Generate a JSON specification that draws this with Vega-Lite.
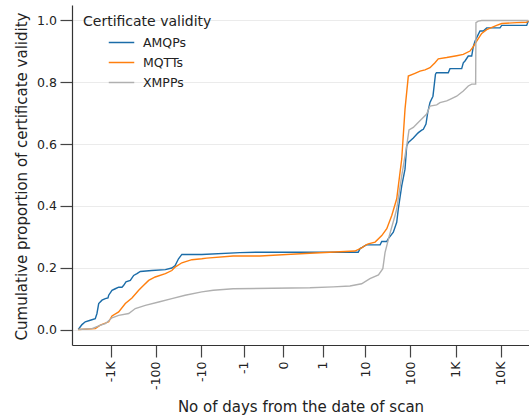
{
  "$schema": "https://vega.github.io/schema/vega-lite/v6.json",
  "width": 457,
  "height": 340,
  "autosize": {"type": "none"},
  "padding": {"left": 72, "top": 5, "right": 0, "bottom": 72},
  "background": "white",
  "config": {
    "view": {"stroke": null},
    "font": "DejaVu Sans",
    "axis": {
      "domainColor": "#333333",
      "domainWidth": 1.2,
      "tickColor": "#444444",
      "tickWidth": 1.2,
      "labelColor": "#222222",
      "titleColor": "#222222",
      "labelFont": "DejaVu Sans",
      "titleFont": "DejaVu Sans"
    },
    "legend": {"labelFont": "DejaVu Sans", "titleFont": "DejaVu Sans"}
  },
  "data": {
    "values": [
      {"protocol": "AMQPs", "days": -5200, "cdf": 0},
      {"protocol": "AMQPs", "days": -4300, "cdf": 0.016},
      {"protocol": "AMQPs", "days": -3640, "cdf": 0.025},
      {"protocol": "AMQPs", "days": -2820, "cdf": 0.03},
      {"protocol": "AMQPs", "days": -2190, "cdf": 0.035},
      {"protocol": "AMQPs", "days": -2010, "cdf": 0.052},
      {"protocol": "AMQPs", "days": -1840, "cdf": 0.084},
      {"protocol": "AMQPs", "days": -1556, "cdf": 0.095},
      {"protocol": "AMQPs", "days": -1316, "cdf": 0.1},
      {"protocol": "AMQPs", "days": -1147, "cdf": 0.102},
      {"protocol": "AMQPs", "days": -1107, "cdf": 0.111},
      {"protocol": "AMQPs", "days": -936, "cdf": 0.127},
      {"protocol": "AMQPs", "days": -792, "cdf": 0.132},
      {"protocol": "AMQPs", "days": -666, "cdf": 0.137},
      {"protocol": "AMQPs", "days": -563, "cdf": 0.137},
      {"protocol": "AMQPs", "days": -516, "cdf": 0.143},
      {"protocol": "AMQPs", "days": -460, "cdf": 0.154},
      {"protocol": "AMQPs", "days": -369, "cdf": 0.159},
      {"protocol": "AMQPs", "days": -311, "cdf": 0.175},
      {"protocol": "AMQPs", "days": -263, "cdf": 0.181},
      {"protocol": "AMQPs", "days": -222, "cdf": 0.188},
      {"protocol": "AMQPs", "days": -123, "cdf": 0.191},
      {"protocol": "AMQPs", "days": -62, "cdf": 0.194},
      {"protocol": "AMQPs", "days": -44.6, "cdf": 0.199},
      {"protocol": "AMQPs", "days": -37.7, "cdf": 0.207},
      {"protocol": "AMQPs", "days": -31.7, "cdf": 0.229},
      {"protocol": "AMQPs", "days": -26.7, "cdf": 0.243},
      {"protocol": "AMQPs", "days": -9.6, "cdf": 0.243},
      {"protocol": "AMQPs", "days": -1.25, "cdf": 0.249},
      {"protocol": "AMQPs", "days": -0.45, "cdf": 0.25},
      {"protocol": "AMQPs", "days": 6.9, "cdf": 0.25},
      {"protocol": "AMQPs", "days": 7.6, "cdf": 0.262},
      {"protocol": "AMQPs", "days": 8.5, "cdf": 0.266},
      {"protocol": "AMQPs", "days": 10.5, "cdf": 0.274},
      {"protocol": "AMQPs", "days": 21.3, "cdf": 0.274},
      {"protocol": "AMQPs", "days": 23.2, "cdf": 0.285},
      {"protocol": "AMQPs", "days": 30, "cdf": 0.285},
      {"protocol": "AMQPs", "days": 32.5, "cdf": 0.294},
      {"protocol": "AMQPs", "days": 41.9, "cdf": 0.315},
      {"protocol": "AMQPs", "days": 49.8, "cdf": 0.347},
      {"protocol": "AMQPs", "days": 54, "cdf": 0.39},
      {"protocol": "AMQPs", "days": 64.3, "cdf": 0.465},
      {"protocol": "AMQPs", "days": 76, "cdf": 0.519},
      {"protocol": "AMQPs", "days": 82.8, "cdf": 0.594},
      {"protocol": "AMQPs", "days": 89.9, "cdf": 0.605},
      {"protocol": "AMQPs", "days": 98, "cdf": 0.61},
      {"protocol": "AMQPs", "days": 116, "cdf": 0.62},
      {"protocol": "AMQPs", "days": 138, "cdf": 0.632},
      {"protocol": "AMQPs", "days": 150, "cdf": 0.637},
      {"protocol": "AMQPs", "days": 178, "cdf": 0.645},
      {"protocol": "AMQPs", "days": 193, "cdf": 0.648},
      {"protocol": "AMQPs", "days": 221, "cdf": 0.665},
      {"protocol": "AMQPs", "days": 241, "cdf": 0.702},
      {"protocol": "AMQPs", "days": 271, "cdf": 0.735},
      {"protocol": "AMQPs", "days": 315, "cdf": 0.755},
      {"protocol": "AMQPs", "days": 358, "cdf": 0.826},
      {"protocol": "AMQPs", "days": 376, "cdf": 0.831},
      {"protocol": "AMQPs", "days": 686, "cdf": 0.831},
      {"protocol": "AMQPs", "days": 748, "cdf": 0.844},
      {"protocol": "AMQPs", "days": 1357, "cdf": 0.844},
      {"protocol": "AMQPs", "days": 1472, "cdf": 0.863},
      {"protocol": "AMQPs", "days": 1605, "cdf": 0.869},
      {"protocol": "AMQPs", "days": 1897, "cdf": 0.885},
      {"protocol": "AMQPs", "days": 2255, "cdf": 0.885},
      {"protocol": "AMQPs", "days": 2446, "cdf": 0.915},
      {"protocol": "AMQPs", "days": 2667, "cdf": 0.933},
      {"protocol": "AMQPs", "days": 3155, "cdf": 0.955},
      {"protocol": "AMQPs", "days": 3439, "cdf": 0.966},
      {"protocol": "AMQPs", "days": 4068, "cdf": 0.966},
      {"protocol": "AMQPs", "days": 4834, "cdf": 0.976},
      {"protocol": "AMQPs", "days": 9504, "cdf": 0.976},
      {"protocol": "AMQPs", "days": 10363, "cdf": 0.984},
      {"protocol": "AMQPs", "days": 36930, "cdf": 0.984},
      {"protocol": "AMQPs", "days": 40060, "cdf": 0.998},

      {"protocol": "MQTTs", "days": -5200, "cdf": 0},
      {"protocol": "MQTTs", "days": -2190, "cdf": 0.003},
      {"protocol": "MQTTs", "days": -1697, "cdf": 0.014},
      {"protocol": "MQTTs", "days": -1107, "cdf": 0.025},
      {"protocol": "MQTTs", "days": -936, "cdf": 0.044},
      {"protocol": "MQTTs", "days": -666, "cdf": 0.057},
      {"protocol": "MQTTs", "days": -476, "cdf": 0.084},
      {"protocol": "MQTTs", "days": -339, "cdf": 0.102},
      {"protocol": "MQTTs", "days": -241, "cdf": 0.127},
      {"protocol": "MQTTs", "days": -187, "cdf": 0.143},
      {"protocol": "MQTTs", "days": -145, "cdf": 0.159},
      {"protocol": "MQTTs", "days": -104, "cdf": 0.17},
      {"protocol": "MQTTs", "days": -62, "cdf": 0.181},
      {"protocol": "MQTTs", "days": -44.6, "cdf": 0.191},
      {"protocol": "MQTTs", "days": -37.7, "cdf": 0.202},
      {"protocol": "MQTTs", "days": -26.7, "cdf": 0.216},
      {"protocol": "MQTTs", "days": -16, "cdf": 0.226},
      {"protocol": "MQTTs", "days": -9.6, "cdf": 0.229},
      {"protocol": "MQTTs", "days": -7.5, "cdf": 0.231},
      {"protocol": "MQTTs", "days": -1.83, "cdf": 0.238},
      {"protocol": "MQTTs", "days": -0.35, "cdf": 0.238},
      {"protocol": "MQTTs", "days": 0.45, "cdf": 0.247},
      {"protocol": "MQTTs", "days": 5.8, "cdf": 0.254},
      {"protocol": "MQTTs", "days": 8.24, "cdf": 0.264},
      {"protocol": "MQTTs", "days": 10.67, "cdf": 0.275},
      {"protocol": "MQTTs", "days": 11.6, "cdf": 0.277},
      {"protocol": "MQTTs", "days": 16.5, "cdf": 0.283},
      {"protocol": "MQTTs", "days": 23.2, "cdf": 0.304},
      {"protocol": "MQTTs", "days": 30, "cdf": 0.326},
      {"protocol": "MQTTs", "days": 38.7, "cdf": 0.369},
      {"protocol": "MQTTs", "days": 49.8, "cdf": 0.423},
      {"protocol": "MQTTs", "days": 64.3, "cdf": 0.552},
      {"protocol": "MQTTs", "days": 76, "cdf": 0.713},
      {"protocol": "MQTTs", "days": 89.9, "cdf": 0.82},
      {"protocol": "MQTTs", "days": 126.3, "cdf": 0.829},
      {"protocol": "MQTTs", "days": 162.9, "cdf": 0.836},
      {"protocol": "MQTTs", "days": 210, "cdf": 0.84},
      {"protocol": "MQTTs", "days": 271, "cdf": 0.847},
      {"protocol": "MQTTs", "days": 349, "cdf": 0.863},
      {"protocol": "MQTTs", "days": 413, "cdf": 0.876},
      {"protocol": "MQTTs", "days": 633, "cdf": 0.88},
      {"protocol": "MQTTs", "days": 1052, "cdf": 0.886},
      {"protocol": "MQTTs", "days": 1472, "cdf": 0.89},
      {"protocol": "MQTTs", "days": 2069, "cdf": 0.901},
      {"protocol": "MQTTs", "days": 2446, "cdf": 0.915},
      {"protocol": "MQTTs", "days": 2908, "cdf": 0.933},
      {"protocol": "MQTTs", "days": 3750, "cdf": 0.958},
      {"protocol": "MQTTs", "days": 4834, "cdf": 0.97},
      {"protocol": "MQTTs", "days": 8035, "cdf": 0.984},
      {"protocol": "MQTTs", "days": 10363, "cdf": 0.99},
      {"protocol": "MQTTs", "days": 22220, "cdf": 0.993},
      {"protocol": "MQTTs", "days": 36930, "cdf": 0.994},
      {"protocol": "MQTTs", "days": 40060, "cdf": 1.0},

      {"protocol": "XMPPs", "days": -5200, "cdf": 0},
      {"protocol": "XMPPs", "days": -2587, "cdf": 0.003},
      {"protocol": "XMPPs", "days": -1840, "cdf": 0.012},
      {"protocol": "XMPPs", "days": -1316, "cdf": 0.019},
      {"protocol": "XMPPs", "days": -936, "cdf": 0.038},
      {"protocol": "XMPPs", "days": -666, "cdf": 0.046},
      {"protocol": "XMPPs", "days": -400, "cdf": 0.052},
      {"protocol": "XMPPs", "days": -286, "cdf": 0.068},
      {"protocol": "XMPPs", "days": -172, "cdf": 0.078},
      {"protocol": "XMPPs", "days": -87, "cdf": 0.089},
      {"protocol": "XMPPs", "days": -44.6, "cdf": 0.1},
      {"protocol": "XMPPs", "days": -22.6, "cdf": 0.111},
      {"protocol": "XMPPs", "days": -9.6, "cdf": 0.122},
      {"protocol": "XMPPs", "days": -5.3, "cdf": 0.127},
      {"protocol": "XMPPs", "days": -1.83, "cdf": 0.132},
      {"protocol": "XMPPs", "days": 0.45, "cdf": 0.135},
      {"protocol": "XMPPs", "days": 1.83, "cdf": 0.138},
      {"protocol": "XMPPs", "days": 4.48, "cdf": 0.141},
      {"protocol": "XMPPs", "days": 8.24, "cdf": 0.148},
      {"protocol": "XMPPs", "days": 12.65, "cdf": 0.165},
      {"protocol": "XMPPs", "days": 19.6, "cdf": 0.177},
      {"protocol": "XMPPs", "days": 24.5, "cdf": 0.197},
      {"protocol": "XMPPs", "days": 27.5, "cdf": 0.25},
      {"protocol": "XMPPs", "days": 34.2, "cdf": 0.304},
      {"protocol": "XMPPs", "days": 45.7, "cdf": 0.369},
      {"protocol": "XMPPs", "days": 49.8, "cdf": 0.39},
      {"protocol": "XMPPs", "days": 64.3, "cdf": 0.498},
      {"protocol": "XMPPs", "days": 82.8, "cdf": 0.594},
      {"protocol": "XMPPs", "days": 93.1, "cdf": 0.646},
      {"protocol": "XMPPs", "days": 115.9, "cdf": 0.654},
      {"protocol": "XMPPs", "days": 137.7, "cdf": 0.665},
      {"protocol": "XMPPs", "days": 177.6, "cdf": 0.681},
      {"protocol": "XMPPs", "days": 229, "cdf": 0.697},
      {"protocol": "XMPPs", "days": 271, "cdf": 0.723},
      {"protocol": "XMPPs", "days": 381, "cdf": 0.727},
      {"protocol": "XMPPs", "days": 450, "cdf": 0.734},
      {"protocol": "XMPPs", "days": 633, "cdf": 0.74},
      {"protocol": "XMPPs", "days": 748, "cdf": 0.745},
      {"protocol": "XMPPs", "days": 1052, "cdf": 0.755},
      {"protocol": "XMPPs", "days": 1472, "cdf": 0.772},
      {"protocol": "XMPPs", "days": 1897, "cdf": 0.788},
      {"protocol": "XMPPs", "days": 2255, "cdf": 0.794},
      {"protocol": "XMPPs", "days": 2760, "cdf": 0.794},
      {"protocol": "XMPPs", "days": 2800, "cdf": 0.993},
      {"protocol": "XMPPs", "days": 3155, "cdf": 0.998},
      {"protocol": "XMPPs", "days": 3750, "cdf": 1.0},
      {"protocol": "XMPPs", "days": 40060, "cdf": 1.0}
    ]
  },
  "mark": {"type": "line", "strokeWidth": 1.4, "interpolate": "linear", "clip": true},
  "encoding": {
    "x": {
      "field": "days",
      "type": "quantitative",
      "scale": {"type": "symlog", "constant": 0.156, "domain": [-7145, 41500], "nice": false, "zero": false},
      "axis": {
        "values": [-1000, -100, -10, -1, 0, 1, 10, 100, 1000, 10000],
        "labelExpr": "datum.value == -1000 ? '-1K' : datum.value == 1000 ? '1K' : datum.value == 10000 ? '10K' : '' + datum.value",
        "labelAngle": 270,
        "labelFontSize": 12.5,
        "labelPadding": 4,
        "labelOverlap": false,
        "tickSize": 12,
        "grid": false,
        "title": "No of days from the date of scan",
        "titleFontSize": 15,
        "titleFontWeight": "normal",
        "titleX": 228.5,
        "titleY": 66,
        "titleBaseline": "alphabetic",
        "titleAlign": "center"
      }
    },
    "y": {
      "field": "cdf",
      "type": "quantitative",
      "scale": {"domain": [-0.05, 1.05], "nice": false, "zero": false},
      "axis": {
        "values": [0, 0.2, 0.4, 0.6, 0.8, 1.0],
        "format": ".1f",
        "labelFontSize": 12.5,
        "labelPadding": 3.5,
        "tickSize": 12,
        "grid": true,
        "gridColor": "#ebebeb",
        "gridWidth": 1.2,
        "title": "Cumulative proportion of certificate validity",
        "titleFontSize": 15,
        "titleFontWeight": "normal",
        "titleAngle": 270,
        "titleX": -46,
        "titleY": 171,
        "titleBaseline": "alphabetic",
        "titleAlign": "center"
      }
    },
    "color": {
      "field": "protocol",
      "type": "nominal",
      "scale": {"domain": ["AMQPs", "MQTTs", "XMPPs"], "range": ["#1b6ca8", "#ff7f0e", "#b0b0b0"]},
      "legend": {
        "title": "Certificate validity",
        "orient": "none",
        "legendX": 11,
        "legendY": 10,
        "padding": 0,
        "symbolType": "stroke",
        "symbolSize": 650,
        "symbolStrokeWidth": 1.5,
        "symbolOffset": 25,
        "labelOffset": 8,
        "labelFontSize": 12.5,
        "labelColor": "#222222",
        "titleFontSize": 14,
        "titleFontWeight": "normal",
        "titleColor": "#222222",
        "titlePadding": 0,
        "rowPadding": -8.5
      }
    }
  }
}
